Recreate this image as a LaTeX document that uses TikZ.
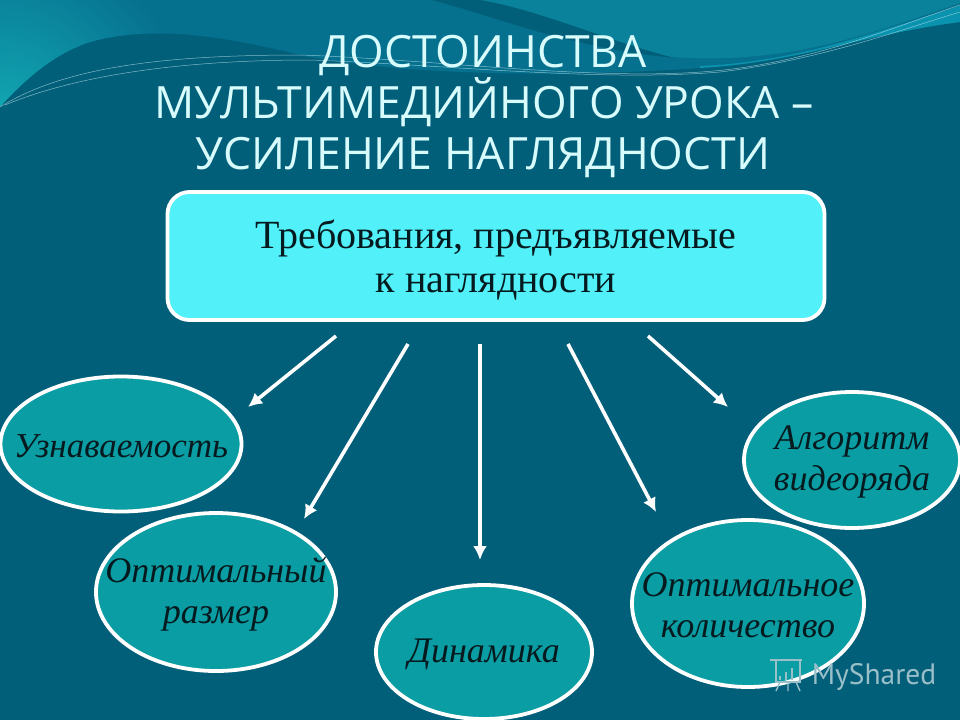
\documentclass[tikz,border=0pt]{standalone}
\usepackage{fontspec}
\setmainfont{Liberation Serif}
\newfontfamily\titlefont{Open Sans}
\newfontfamily\markfont{PT Sans}
\usetikzlibrary{shapes.geometric,arrows.meta}
\definecolor{basecol}{HTML}{025F79}
\definecolor{topdark}{HTML}{06708F}
\definecolor{topmid}{HTML}{0A829B}
\definecolor{leftbright}{HTML}{12AAB4}
\definecolor{bandcol}{HTML}{0A93AE}
\definecolor{ellcol}{HTML}{0A9DA3}
\definecolor{boxcol}{HTML}{52F1F9}
\definecolor{titlecol}{HTML}{D8FBFC}
\definecolor{inkcol}{HTML}{051A1E}
\tikzset{
  oval/.style={ellipse,draw=white,line width=3.8pt,fill=ellcol,inner sep=0pt},
  ovaltext/.style={font=\fontsize{36}{41}\selectfont\itshape,text=inkcol,align=center,inner sep=0pt},
  titleline/.style={text=titlecol,font=\titlefont\fontsize{44.5}{44.5}\selectfont,inner sep=0pt,anchor=base},
  pointer/.style={draw=white,line width=3.6pt,-{Latex[length=14pt,width=14pt]}},
  wavefine/.style={draw=white!70!bandcol,line width=.5pt,opacity=.7}
}
\begin{document}
\begin{tikzpicture}[x=1pt,y=-1pt]
\useasboundingbox (0,0) rectangle (960,720);
\fill[basecol] (0,0) rectangle (960,720);
% background waves
\begin{scope}
\clip (0,0) -- (960,0) -- (960,22) .. controls (860,35) and (800,62) .. (700,68)
  .. controls (560,78) and (400,75) .. (300,55)
  .. controls (220,35) and (150,25) .. (90,42)
  .. controls (50,55) and (20,85) .. (0,107) -- cycle;
\fill[topdark] (0,0) rectangle (960,110);
\shade[inner color=leftbright,outer color=topdark] (0,125) circle (190);
\end{scope}
\fill[topmid] (440,0) .. controls (540,28) and (600,55) .. (690,58)
  .. controls (800,62) and (880,30) .. (960,3) -- (960,0) -- cycle;
\fill[basecol] (432,0) .. controls (500,18) and (570,48) .. (675,58)
  .. controls (610,42) and (540,10) .. (480,0) -- cycle;
\fill[bandcol] (700,66) .. controls (800,62) and (880,30) .. (960,6)
  -- (960,22) .. controls (860,35) and (800,62) .. (700,68) -- cycle;
\draw[wavefine] (0,107) .. controls (60,70) and (150,55) .. (300,55)
  .. controls (450,60) and (620,85) .. (740,68) .. controls (830,55) and (900,25) .. (960,5);
\draw[wavefine] (5,105) .. controls (70,78) and (170,60) .. (310,60)
  .. controls (450,65) and (600,82) .. (720,72) .. controls (820,60) and (900,30) .. (960,12);
% title
\node[titleline] (t1) at (483,67) {ДОСТОИНСТВА};
\node[titleline] (t2) at (484,118) {МУЛЬТИМЕДИЙНОГО УРОКА –};
\node[titleline] (t3) at (483,169) {УСИЛЕНИЕ НАГЛЯДНОСТИ};
% main box
\node[draw=white,line width=3.8pt,fill=boxcol,rounded corners=22pt,minimum width=657pt,minimum height=128pt,
  inner sep=0pt] (req) at (496,256) {};
\node[inner sep=0pt,align=center,text=inkcol,font=\fontsize{40}{44}\selectfont] (reqt) at (496,260.5)
  {Требования, предъявляемые\\к наглядности};
% ovals
\node[oval,minimum width=241pt,minimum height=135pt] (a) at (121,444) {};
\node[oval,minimum width=240pt,minimum height=158pt] (b) at (216,592) {};
\node[oval,minimum width=216pt,minimum height=134pt] (c) at (484,652) {};
\node[oval,minimum width=232pt,minimum height=167pt] (d) at (748,603.5) {};
\node[oval,minimum width=216pt,minimum height=136pt] (e) at (852,460) {};
\node[ovaltext,font=\fontsize{35}{41}\selectfont\itshape] (ta) at (121,446) {Узнаваемость};
\node[ovaltext] (tb) at (216,594) {Оптимальный\\размер};
\node[ovaltext] (tc) at (484,654) {Динамика};
\node[ovaltext] (td) at (748,605) {Оптимальное\\количество};
\node[ovaltext] (te) at (852,462) {Алгоритм\\видеоряда};
% connector ends
\coordinate (s1) at (336,336); \coordinate (e1) at (248,407);
\coordinate (s2) at (408,344); \coordinate (e2) at (304,519);
\coordinate (s3) at (480,344); \coordinate (e3) at (480,560);
\coordinate (s4) at (568,344); \coordinate (e4) at (656,512);
\coordinate (s5) at (648,336); \coordinate (e5) at (728,407);
\draw[pointer] (s1) -- (e1);
\draw[pointer] (s2) -- (e2);
\draw[pointer] (s3) -- (e3);
\draw[pointer] (s4) -- (e4);
\draw[pointer] (s5) -- (e5);
% watermark
\node[text=white!60!basecol,font=\markfont\fontsize{29.5}{29.5}\selectfont,inner sep=0pt] (mark) at (874,677) {MyShared};
\begin{scope}[draw=white!60!basecol,line width=1.4pt]
\draw (770,660) -- (802,660) (776,660) rectangle (800,682);
\draw (780,676) -- (780,680) (786,672) -- (786,680) (792,668) -- (792,680);
\draw (780,682) -- (776,691) (788,682) -- (788,691) (796,682) -- (800,691);
\end{scope}
\end{tikzpicture}
\end{document}
